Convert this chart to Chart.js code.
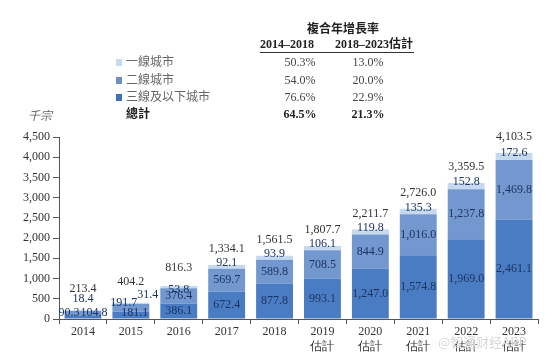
<!DOCTYPE html>
<html>
<head>
<meta charset="utf-8">
<script src="https://cdn.jsdelivr.net/npm/chart.js@4"></script>
<style>
  body { margin: 0; background: #fff; }
  #wrap { position: relative; width: 554px; height: 360px; font-family: "Liberation Serif", "Noto Sans CJK TC", serif; color: #444; }
  #chart { position: absolute; left: 0; top: 0; }
  .t { position: absolute; white-space: nowrap; font-size: 12px; line-height: 14px; }
  .c { transform: translateX(-50%); }
  .b { font-weight: bold; color: #222; }
  .sq { position: absolute; width: 6px; height: 7px; }
</style>
</head>
<body>
<div id="wrap">
  <canvas id="chart" width="554" height="360"></canvas>
  <div id="head"></div>
</div>
<script>
const years = ["2014", "2015", "2016", "2017", "2018", "2019", "2020", "2021", "2022", "2023"];
const estimated = [false, false, false, false, false, true, true, true, true, true];
const tier3Below = [90.3, 181.1, 386.1, 672.4, 877.8, 993.1, 1247.0, 1574.8, 1969.0, 2461.1];
const tier2 = [104.8, 191.7, 376.4, 569.7, 589.8, 708.5, 844.9, 1016.0, 1237.8, 1469.8];
const tier1 = [18.4, 31.4, 53.8, 92.1, 93.9, 106.1, 119.8, 135.3, 152.8, 172.6];
const totals = [213.4, 404.2, 816.3, 1334.1, 1561.5, 1807.7, 2211.7, 2726.0, 3359.5, 4103.5];

const legendNames = ["一線城市", "二線城市", "三線及以下城市", "總計"];
const cagr1418 = ["50.3%", "54.0%", "76.6%", "64.5%"];
const cagr1823 = ["13.0%", "20.0%", "22.9%", "21.3%"];
const legendColors = ["#c9dbef", "#6f90c6", "#4170b8", null];

// header / CAGR table
const head = document.getElementById("head");
function addText(txt, x, y, cls) {
  const d = document.createElement("div");
  d.className = "t " + (cls || "");
  d.textContent = txt;
  d.style.left = x + "px";
  d.style.top = (y - 7) + "px";
  head.appendChild(d);
  return d;
}
addText("複合年增長率", 343, 29, "c b");
addText("2014–2018", 287, 44, "c b");
addText("2018–2023估計", 374, 44, "c b");
const rule = document.createElement("div");
rule.style.cssText = "position:absolute;left:260px;top:52px;width:154px;height:0;border-top:1.5px solid #333;";
head.appendChild(rule);
const rowY = [62, 80, 97, 114];
legendNames.forEach((name, i) => {
  const bold = i === 3;
  addText(name, 126, rowY[i], bold ? "b" : "").style.color = bold ? "#222" : "#666";
  addText(cagr1418[i], 300, rowY[i], bold ? "c b" : "c");
  addText(cagr1823[i], 368, rowY[i], bold ? "c b" : "c");
  if (legendColors[i]) {
    const s = document.createElement("div");
    s.className = "sq";
    s.style.left = "116px";
    s.style.top = (rowY[i] - 3) + "px";
    s.style.background = legendColors[i];
    head.appendChild(s);
  }
});
addText("千宗", 28, 116).style.cssText += "font-style:italic;color:#666;";
addText("@智通财经APP", 438, 342).style.cssText += "color:#d8d8d8;font-size:13px;font-family:'Noto Sans CJK SC';";

// value labels drawn on the bars
const labelNudge = {
  "0-0": [-14, -4], "0-1": [11, 0], "0-2": [0, -12],
  "1-0": [4, -2], "1-1": [-7, -5], "1-2": [17, -8],
  "2-2": [0, 3]
};
const totalNudge = { 0: -22, 1: -21, 2: -18 };
const fmt = v => v.toLocaleString("en-US", { minimumFractionDigits: 1, maximumFractionDigits: 1 });

const barLabels = {
  id: "barLabels",
  afterDatasetsDraw(chart) {
    const ctx = chart.ctx;
    ctx.save();
    ctx.font = "12px 'Liberation Serif'";
    ctx.textAlign = "center";
    ctx.textBaseline = "middle";
    chart.data.datasets.forEach((ds, d) => {
      chart.getDatasetMeta(d).data.forEach((bar, i) => {
        const n = labelNudge[i + "-" + d];
        let x = bar.x, y = (bar.y + bar.base) / 2;
        if (n) { x += n[0]; y += n[1]; }
        else if (d === 2) { y -= 4; }
        ctx.fillStyle = "#1d3461";
        ctx.fillText(fmt(ds.data[i]), x, y);
      });
    });
    const topMeta = chart.getDatasetMeta(2);
    topMeta.data.forEach((bar, i) => {
      const off = totalNudge[i] !== undefined ? totalNudge[i] : -16;
      ctx.fillStyle = "#333";
      ctx.fillText(fmt(totals[i]), bar.x, bar.y + off);
    });
    ctx.restore();
  }
};

const tickFont = { family: "Liberation Serif", size: 12 };

new Chart(document.getElementById("chart"), {
  type: "bar",
  data: {
    labels: years.map((y, i) => estimated[i] ? [y, "估計"] : y),
    datasets: [
      { label: "三線及以下城市", data: tier3Below, backgroundColor: "#4a7cc4" },
      { label: "二線城市", data: tier2, backgroundColor: "#7398d0" },
      { label: "一線城市", data: tier1, backgroundColor: "#c6d9f0" }
    ]
  },
  options: {
    responsive: false,
    animation: false,
    layout: { padding: { top: 137, right: 16, left: 0, bottom: 0 } },
    datasets: { bar: { categoryPercentage: 1, barPercentage: 0.77 } },
    plugins: { legend: { display: false }, tooltip: { enabled: false } },
    scales: {
      x: {
        stacked: true,
        grid: { offset: true, drawOnChartArea: false, tickLength: 5, color: "#555" },
        border: { color: "#555" },
        ticks: { font: tickFont, color: "#333", padding: 1, maxRotation: 0 },
        afterFit: s => { s.height = 41; }
      },
      y: {
        stacked: true,
        min: 0,
        max: 4500,
        grid: { drawOnChartArea: false, tickLength: 6, color: "#555" },
        border: { color: "#555" },
        ticks: { stepSize: 500, font: tickFont, color: "#333", padding: 3,
          callback: v => v.toLocaleString("en-US") },
        afterFit: s => { s.width = 59; }
      }
    }
  },
  plugins: [barLabels]
});
</script>
</body>
</html>
